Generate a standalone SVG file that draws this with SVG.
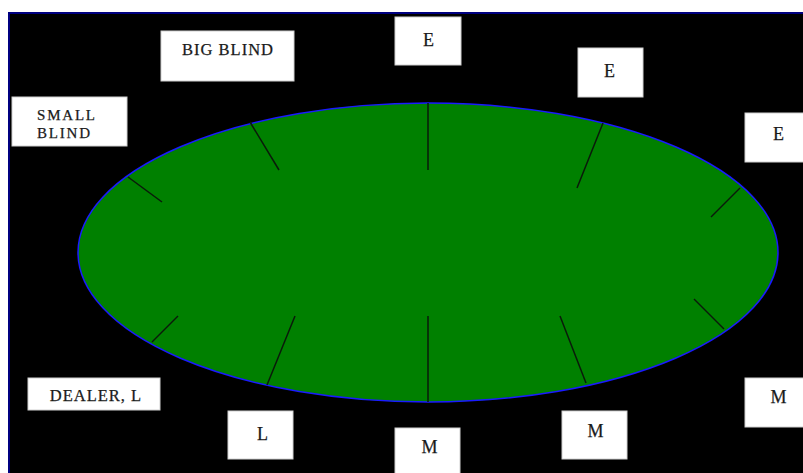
<svg xmlns="http://www.w3.org/2000/svg" width="803" height="473" viewBox="0 0 803 473">
<style>
.box{fill:#ffffff;stroke:#d0d0d0;stroke-width:1}
.lbl{font-family:"Liberation Serif","Times New Roman",serif;font-size:16.5px;letter-spacing:1px;fill:#1a1a1a;stroke:#1a1a1a;stroke-width:0.25;text-anchor:middle}
.big{font-size:18px}
.sm{font-size:15px;letter-spacing:1.8px}
.lft{text-anchor:start}
.seat{stroke:#0a1a0a;stroke-width:1.5;fill:none}
</style>
<rect x="0" y="0" width="803" height="473" fill="#ffffff"/>
<rect x="8" y="12" width="795" height="461" fill="#000080"/>
<rect x="10" y="14" width="793" height="459" fill="#000000"/>
<g id="table">
<ellipse cx="428" cy="252.5" rx="350" ry="149.5" fill="#008000" stroke="#1a1aff" stroke-width="1.5"/>
</g>
<g id="connectors">
<line class="seat" x1="428" y1="103" x2="428" y2="170"/>
<line class="seat" x1="603" y1="123" x2="577" y2="188"/>
<line class="seat" x1="250" y1="122" x2="279" y2="170"/>
<line class="seat" x1="128" y1="177" x2="162" y2="202"/>
<line class="seat" x1="152" y1="342" x2="178" y2="316"/>
<line class="seat" x1="740" y1="188" x2="711" y2="217"/>
<line class="seat" x1="694" y1="299" x2="724" y2="329"/>
<line class="seat" x1="428" y1="316" x2="428" y2="402"/>
<line class="seat" x1="295" y1="316" x2="267" y2="385"/>
<line class="seat" x1="560" y1="316" x2="586" y2="383"/>
</g>
<g id="big-blind"><rect class="box" x="161" y="31" width="133" height="50"/><text class="lbl" x="228" y="55">BIG BLIND</text></g>
<g id="small-blind"><rect class="box" x="12" y="97" width="115" height="49"/><text class="lbl sm lft" x="37" y="120">SMALL</text><text class="lbl sm lft" x="37" y="137.5">BLIND</text></g>
<g id="e1"><rect class="box" x="395" y="17" width="66" height="48"/><text class="lbl big" x="429" y="46">E</text></g>
<g id="e2"><rect class="box" x="578" y="48" width="65" height="49"/><text class="lbl big" x="610" y="77">E</text></g>
<g id="e3"><rect class="box" x="745" y="113" width="60" height="49"/><text class="lbl big" x="779" y="140">E</text></g>
<g id="dealer"><rect class="box" x="28" y="378" width="132" height="32"/><text class="lbl" x="96" y="401">DEALER, L</text></g>
<g id="l"><rect class="box" x="228" y="411" width="65" height="48"/><text class="lbl big" x="263" y="440">L</text></g>
<g id="m1"><rect class="box" x="395" y="428" width="65" height="50"/><text class="lbl big" x="430" y="453">M</text></g>
<g id="m2"><rect class="box" x="562" y="411" width="65" height="48"/><text class="lbl big" x="596" y="437">M</text></g>
<g id="m3"><rect class="box" x="745" y="378" width="60" height="49"/><text class="lbl big" x="779" y="403">M</text></g>
</svg>
